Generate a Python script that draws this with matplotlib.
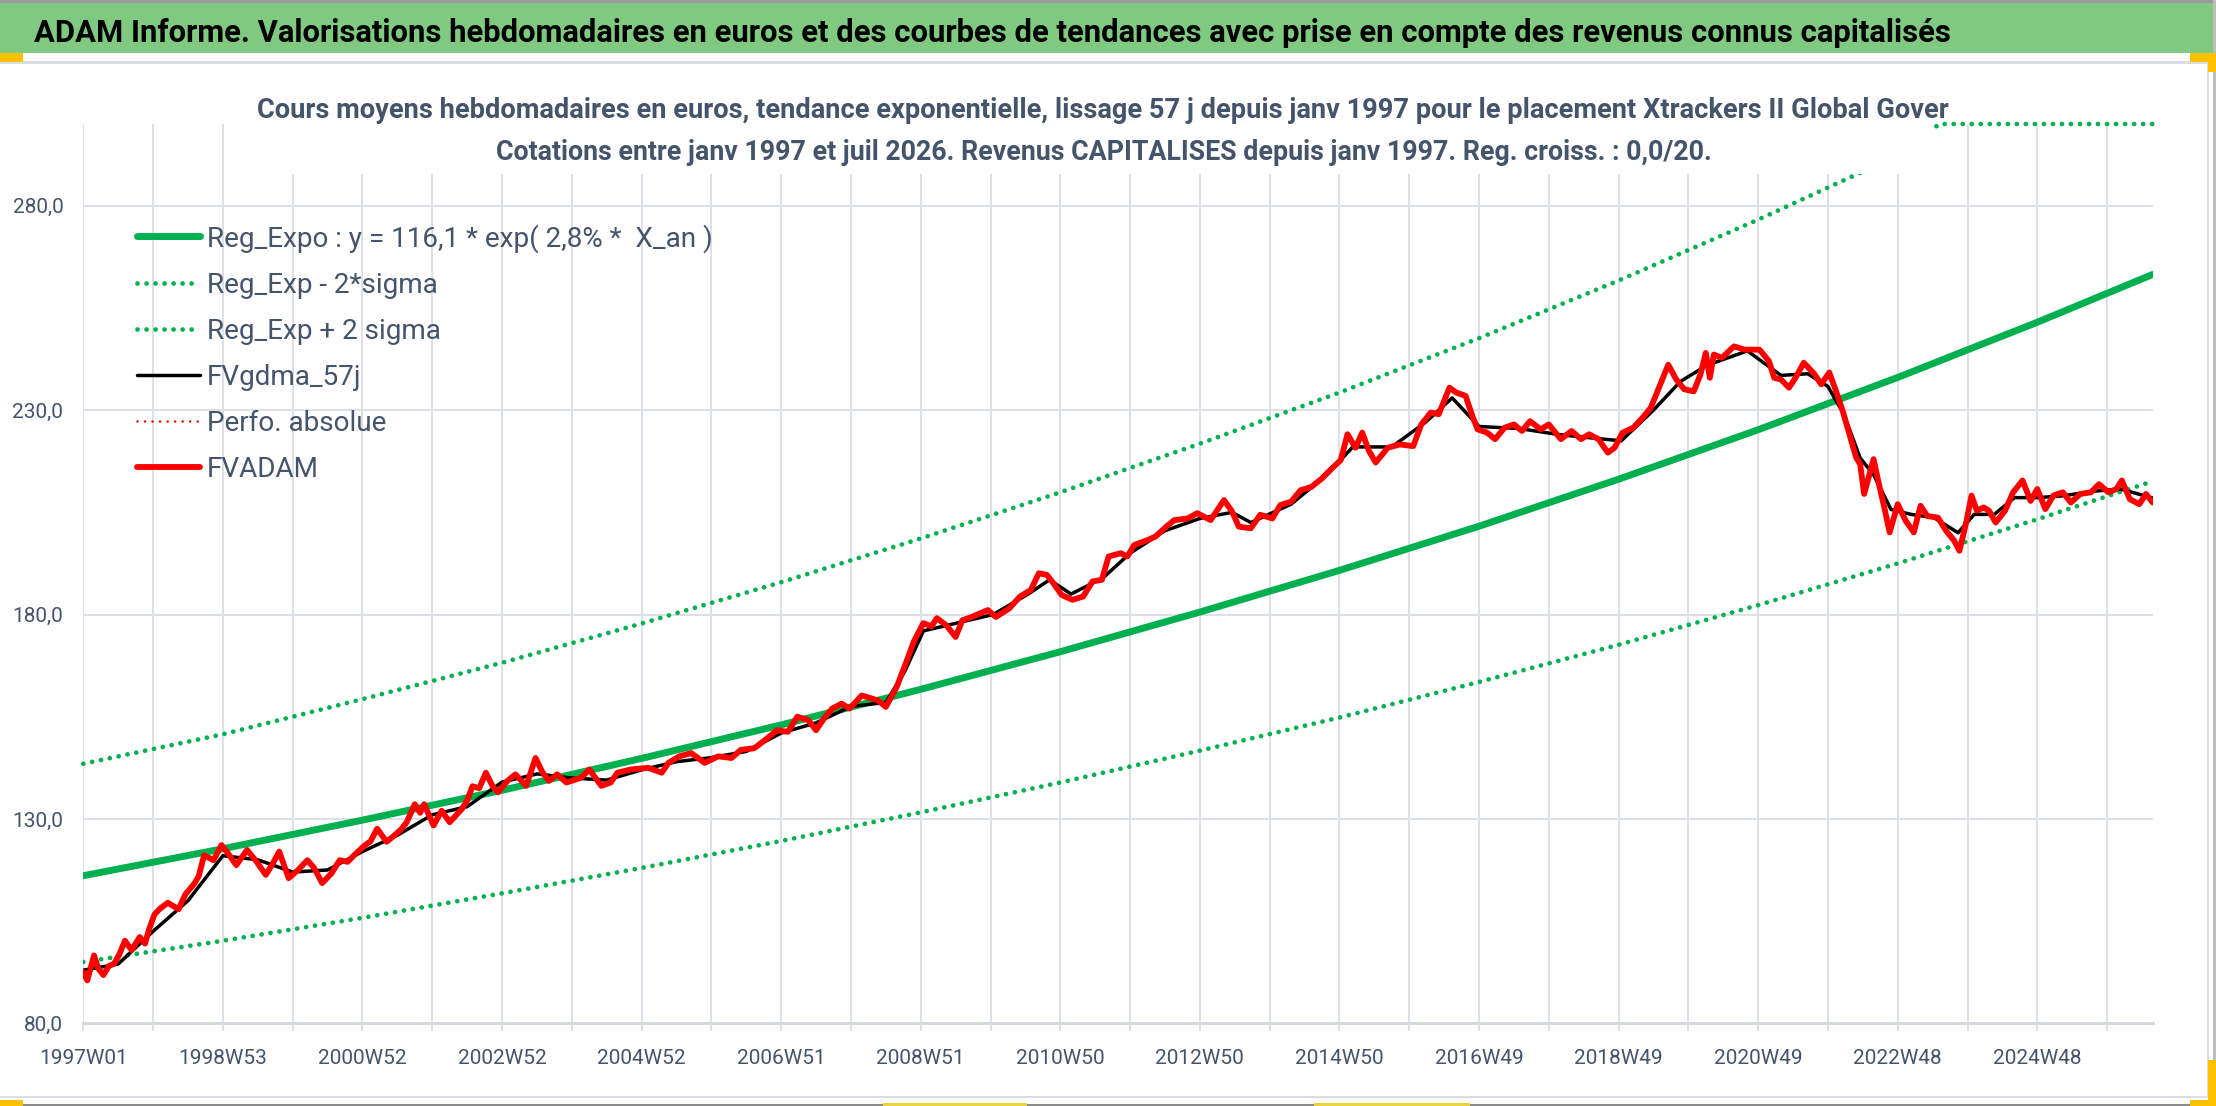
import numpy as np
import matplotlib
matplotlib.use("Agg")
import matplotlib.pyplot as plt
from matplotlib import font_manager
from matplotlib.font_manager import FontProperties
from matplotlib.textpath import TextPath
from matplotlib.patches import Rectangle
from matplotlib.ticker import FixedLocator, FuncFormatter

# --- data (x = week index since 1997W01) ---
fv_weeks = [
    0, 3, 8, 11, 15, 19, 23, 27, 31, 36,
    42, 46, 49, 53, 57, 63, 71, 76, 83, 86,
    90, 97, 103, 108, 114, 122, 129, 136, 141, 146,
    153, 160, 167, 172, 178, 185, 191, 197, 203, 210,
    214, 219, 226, 232, 237, 241, 247, 251, 254, 261,
    267, 273, 282, 286, 290, 295, 300, 305, 309, 316,
    322, 330, 337, 342, 347, 353, 360, 371, 377, 386,
    393, 398, 408, 421, 431, 436, 444, 453, 463, 473,
    483, 490, 500, 508, 517, 525, 532, 540, 546, 552,
    558, 565, 571, 580, 584, 592, 598, 606, 613, 619,
    626, 632, 636, 643, 650, 655, 662, 674, 680, 690,
    698, 706, 712, 718, 723, 729, 737, 745, 752, 759,
    764, 773, 778, 783, 793, 799, 807, 813, 823, 830,
    840, 850, 856, 861, 870, 877, 886, 892, 900, 907,
    915, 923, 929, 937, 942, 948, 953, 958, 963, 972,
    981, 991, 997, 1004, 1010, 1018, 1023, 1030, 1035, 1039,
    1046, 1052, 1059, 1066, 1072, 1078, 1086, 1092, 1101, 1109,
    1116, 1122, 1129, 1136, 1141, 1147, 1155, 1162, 1168, 1173,
    1181, 1187, 1193, 1200, 1205, 1209, 1212, 1215, 1221, 1230,
    1238, 1249, 1256, 1260, 1265, 1271, 1276, 1282, 1290, 1295,
    1301, 1306, 1311, 1316, 1321, 1324, 1327, 1331, 1334, 1338,
    1342, 1346, 1352, 1358, 1364, 1369, 1374, 1382, 1388, 1394,
    1398, 1403, 1407, 1411, 1416, 1420, 1425, 1432, 1438, 1445,
    1451, 1456, 1462, 1468, 1475, 1481, 1488, 1496, 1502, 1509,
    1515, 1519, 1525, 1532, 1537, 1542,
]
fv_values = [
    92.5, 90.5, 96.6, 93.5, 91.8, 94.0, 94.6, 97.0, 100.2, 97.9,
    101.1, 99.5, 103.0, 106.6, 108.0, 109.5, 107.9, 111.5, 114.3, 116.0,
    121.1, 119.9, 123.6, 121.5, 118.7, 122.4, 119.6, 116.3, 119.0, 122.0,
    115.5, 117.5, 119.9, 118.0, 114.3, 116.7, 119.9, 119.5, 121.5, 123.6,
    124.5, 127.6, 124.4, 126.0, 127.5, 129.2, 133.6, 131.5, 133.6, 128.4,
    132.0, 129.2, 132.4, 134.5, 138.0, 137.5, 141.3, 138.0, 136.5, 139.3,
    140.9, 138.1, 144.9, 141.5, 139.3, 140.9, 138.9, 140.1, 142.1, 138.1,
    138.9, 141.3, 142.1, 142.5, 141.3, 143.7, 145.3, 146.1, 143.7, 145.3,
    144.9, 146.9, 147.3, 149.3, 151.7, 151.3, 155.0, 154.2, 151.7, 154.6,
    157.0, 158.2, 157.0, 160.2, 159.8, 159.0, 157.4, 162.2, 168.2, 173.5,
    177.9, 177.1, 179.1, 177.4, 174.5, 178.6, 179.4, 181.1, 179.4, 181.5,
    184.4, 186.0, 190.1, 189.7, 187.6, 184.8, 183.6, 184.4, 188.1, 188.5,
    194.2, 195.0, 194.2, 197.0, 198.2, 199.1, 201.5, 203.1, 203.5, 204.8,
    203.1, 208.0, 205.2, 201.5, 201.1, 204.4, 203.5, 206.8, 207.6, 210.4,
    211.2, 213.3, 215.3, 217.8, 224.1, 220.8, 224.5, 220.0, 217.2, 220.8,
    221.6, 221.2, 226.5, 229.4, 229.0, 235.5, 234.3, 233.5, 228.6, 225.3,
    224.5, 222.9, 225.7, 226.5, 224.9, 227.3, 225.3, 226.5, 222.9, 224.9,
    222.9, 224.1, 222.9, 219.6, 220.8, 224.5, 225.7, 228.2, 230.6, 234.6,
    241.1, 237.5, 235.1, 234.6, 238.7, 244.0, 237.9, 243.6, 242.8, 245.6,
    244.8, 244.8, 242.0, 237.9, 237.5, 235.5, 238.0, 241.6, 238.8, 236.3,
    239.2, 234.7, 229.8, 224.1, 218.4, 216.8, 209.5, 214.4, 218.0, 211.9,
    206.2, 200.1, 207.0, 202.9, 200.1, 206.6, 204.1, 203.7, 200.5, 198.1,
    195.6, 202.5, 209.1, 205.4, 206.2, 205.4, 202.5, 205.4, 209.9, 212.8,
    207.8, 210.7, 205.8, 209.1, 209.9, 207.4, 209.5, 209.9, 211.9, 209.9,
    210.7, 212.8, 208.2, 207.0, 209.5, 207.4,
]

gdma_weeks = [
    0, 26, 52, 78, 104, 130, 156, 182, 208, 234,
    260, 286, 312, 338, 364, 390, 416, 442, 468, 494,
    520, 546, 572, 598, 612, 626, 652, 678, 704, 720,
    736, 760, 780, 806, 832, 856, 870, 900, 926, 946,
    975, 1000, 1020, 1040, 1070, 1100, 1130, 1146, 1170, 1190,
    1210, 1240, 1265, 1285, 1300, 1312, 1324, 1334, 1347, 1362,
    1379, 1397, 1409, 1424, 1439, 1456, 1474, 1499, 1518, 1542,
]
gdma_values = [
    93.0, 94.5, 102.5, 110.0, 121.0, 120.0, 117.0, 117.5, 122.0, 126.0,
    131.0, 133.0, 139.0, 141.0, 140.0, 139.5, 142.0, 144.0, 145.0, 146.5,
    151.0, 153.5, 157.5, 158.5, 166.0, 176.0, 178.0, 180.0, 185.0, 188.5,
    185.0, 189.0, 195.0, 200.5, 203.5, 205.0, 202.5, 207.0, 214.0, 221.0,
    221.0, 227.0, 233.0, 226.0, 225.5, 224.0, 223.0, 222.5, 230.0, 237.0,
    241.0, 244.5, 238.5, 238.9, 235.8, 228.9, 218.3, 214.2, 205.7, 204.5,
    203.7, 200.0, 204.5, 204.5, 208.6, 208.6, 209.0, 210.2, 210.7, 208.5,
]

trend_weeks = [0, 104, 208, 312, 416, 520, 624, 728, 832, 936,
               1040, 1144, 1248, 1352, 1456, 1542]
reg_expo = [116.1, 122.7, 129.7, 137.0, 144.8, 153.0, 161.7, 170.9,
            180.6, 190.8, 201.6, 213.1, 225.2, 238.0, 251.5, 263.2]
reg_minus = [95.0, 100.2, 105.8, 111.8, 118.0, 124.6, 131.6, 138.9,
             146.7, 154.8, 163.5, 172.6, 182.3, 192.5, 203.3, 212.6]
plus_weeks = [0, 104, 208, 312, 416, 520, 624, 728, 832, 936,
              1040, 1144, 1248, 1352, 1383, 1456, 1542]
reg_plus = [143.5, 150.7, 159.3, 168.2, 177.8, 187.9, 198.6, 209.9,
            221.8, 234.3, 247.6, 261.7, 276.6, 292.3, 300.0, 300.0, 300.0]

x_labels = ["1997W01", "1998W53", "2000W52", "2002W52", "2004W52",
            "2006W51", "2008W51", "2010W50", "2012W50", "2014W50",
            "2016W49", "2018W49", "2020W49", "2022W48", "2024W48"]
y_ticks = [80, 130, 180, 230, 280]

header = ("ADAM Informe. Valorisations hebdomadaires en euros et des courbes de "
          "tendances avec prise en compte des revenus connus capitalisés")
sub1 = ("Cours moyens hebdomadaires en euros, tendance exponentielle, lissage 57 j "
        "depuis janv 1997 pour le placement Xtrackers II Global Gover")
sub2 = ("Cotations entre janv 1997 et juil 2026. Revenus CAPITALISES depuis "
        "janv 1997. Reg. croiss. : 0,0/20.")
legend_labels = ["Reg_Expo : y = 116,1 * exp( 2,8% *  X_an )", "Reg_Exp - 2*sigma",
                 "Reg_Exp + 2 sigma", "FVgdma_57j", "Perfo. absolue", "FVADAM"]

# --- styling ---
W, H = 2216, 1106
GREEN = "#00B050"
GRID = "#DDE1E7"
SLATE = "#44546A"

installed = {f.name for f in font_manager.fontManager.ttflist}
FONT = next(n for n in ["Liberation Sans Narrow", "Roboto", "DejaVu Sans"] if n in installed)
plt.rcParams["font.family"] = [FONT, "DejaVu Sans"]


def fx(x):
    return x / W


def fy(y):
    return 1 - y / H


def fit_size(s, ink_w, cap_h, weight="normal"):
    # font size (pt) close to the ink width and cap height seen in the picture,
    # the width weighted more so the lines keep their length
    fp = FontProperties(family=FONT, weight=weight)
    w = TextPath((0, 0), s, size=100, prop=fp).get_extents().width
    c = TextPath((0, 0), "H", size=100, prop=fp).get_extents().height
    px = (100 * ink_w / w) ** 0.8 * (100 * cap_h / c) ** 0.2
    return px * 72 / 100


fig = plt.figure(figsize=(W / 100, H / 100), dpi=100)
fig.patch.set_facecolor("white")

# header band and frame
fig.add_artist(Rectangle((0, fy(2.5)), 1, 2.5 / H, transform=fig.transFigure,
                         facecolor="#9A9A9A", edgecolor="none"))
fig.add_artist(Rectangle((0, fy(53)), 1, 50.5 / H, transform=fig.transFigure,
                         facecolor="#80C980", edgecolor="none"))
fig.add_artist(Rectangle((0, fy(63.5)), fx(2207), 2 / H, transform=fig.transFigure,
                         facecolor="#DADDE2", edgecolor="none"))
fig.add_artist(Rectangle((0, fy(1098)), fx(2207), 2 / H, transform=fig.transFigure,
                         facecolor="#DADDE2", edgecolor="none"))
fig.add_artist(Rectangle((fx(2207), fy(1098)), 2 / W, (1098 - 62) / H,
                         transform=fig.transFigure, facecolor="#DADDE2", edgecolor="none"))
fig.add_artist(Rectangle((0, 0), 1, 2.5 / H, transform=fig.transFigure,
                         facecolor="#8C8C8C", edgecolor="none"))
fig.add_artist(Rectangle((fx(2213), 0), 3 / W, 1, transform=fig.transFigure,
                         facecolor="#BDBDBD", edgecolor="none"))
for x0, y0, x1, y1, col in [(0, 53, 23, 62, "#FFC000"), (2190, 53, 2216, 62, "#FFC000"),
                            (2208, 62, 2216, 72, "#FFC000"), (0, 1100, 23, 1106, "#FFC000"),
                            (2208, 1060, 2216, 1106, "#FFC000"), (2190, 1100, 2216, 1106, "#FFC000"),
                            (883, 1103, 1027, 1106, "#E9D33F"), (1314, 1103, 1470, 1106, "#E9D33F")]:
    fig.add_artist(Rectangle((fx(x0), fy(y1)), (x1 - x0) / W, (y1 - y0) / H,
                             transform=fig.transFigure, facecolor=col, edgecolor="none",
                             zorder=4))

# --- plot area ---
ax = fig.add_axes([fx(83.3), fy(1023.3), (2152.7 - 83.3) / W, (1023.3 - 124) / H])
ax.set_xlim(0, 1542)
ax.set_ylim(80, 300)

ax.plot(trend_weeks, reg_expo, color=GREEN, lw=5, solid_capstyle="round",
        label=legend_labels[0])
ax.plot(trend_weeks, reg_minus, color=GREEN, lw=3.4, linestyle=(0, (0.01, 1.9)),
        dash_capstyle="round", label=legend_labels[1])
ax.plot(plus_weeks, reg_plus, color=GREEN, lw=3.4, linestyle=(0, (0.01, 1.9)),
        dash_capstyle="round", clip_on=False, label=legend_labels[2])
ax.plot(gdma_weeks, gdma_values, color="black", lw=2.5, solid_capstyle="round",
        label=legend_labels[3])
ax.plot([], [], color="#E00000", lw=1.8, linestyle=(0, (0.01, 3.0)),
        dash_capstyle="round", label=legend_labels[4])
ax.plot(fv_weeks, fv_values, color="#FF0000", lw=4.2, solid_joinstyle="round",
        solid_capstyle="round", label=legend_labels[5])

for side in ["left", "right", "top"]:
    ax.spines[side].set_visible(False)
ax.spines["bottom"].set_color("#D6DADF")
ax.spines["bottom"].set_linewidth(2.2)

tick_fs = 0.5 * (fit_size("1997W01", 83.3, 15.3) + fit_size("280,0", 48.3, 15.0))
ax.xaxis.set_major_locator(FixedLocator(list(range(0, 104 * len(x_labels), 104))))
ax.xaxis.set_minor_locator(FixedLocator(list(range(52, 1509, 104))))
ax.set_xticklabels(x_labels)
ax.yaxis.set_major_locator(FixedLocator(y_ticks))
ax.yaxis.set_major_formatter(FuncFormatter(lambda v, p: f"{v:.1f}".replace(".", ",")))
ax.tick_params(axis="x", which="both", length=6, width=1.4, color=GRID,
               labelsize=tick_fs, labelcolor=SLATE, pad=12.5)
ax.tick_params(axis="y", length=0, labelsize=tick_fs, labelcolor=SLATE, pad=14.4)
ax.set_axisbelow(True)
ax.grid(axis="y", color=GRID, lw=1.4)
ax.grid(axis="x", which="both", color=GRID, lw=1.4)

# legend, fitted to the reference rows
leg_fs = fit_size(legend_labels[0], 490, 21.7)
leg_px = leg_fs * 100 / 72


def make_legend(spacing):
    return ax.legend(loc="upper left", frameon=False, borderpad=0, borderaxespad=0,
                     bbox_to_anchor=(fx(137), fy(241 - 0.62 * leg_px)),
                     bbox_transform=fig.transFigure, prop={"size": leg_fs},
                     labelcolor=SLATE, handlelength=63 / leg_px,
                     handletextpad=7 / leg_px, labelspacing=spacing)


leg = make_legend(0.5)
renderer = fig.canvas.get_renderer()
text_h = leg.get_texts()[1].get_window_extent(renderer=renderer).height
leg.remove()
leg = make_legend(max(0.0, (46 - text_h) / leg_px))

# titles; the white box hides the top of the plot area like the original
fig.add_artist(Rectangle((fx(278), fy(174)), (1932 - 278) / W, (174 - 68) / H,
                         transform=fig.transFigure, facecolor="white",
                         edgecolor="none", zorder=2))
fig.text(fx(34), fy(42), header, ha="left", va="baseline", color="black",
         fontweight="bold", fontsize=fit_size(header, 1891, 23.3, "bold"), zorder=5)
fig.text(fx(1103), fy(118), sub1, ha="center", va="baseline", color=SLATE,
         fontweight="bold", fontsize=fit_size(sub1, 1640, 21.7, "bold"), zorder=5)
fig.text(fx(1104), fy(160), sub2, ha="center", va="baseline", color=SLATE,
         fontweight="bold", fontsize=fit_size(sub2, 1176, 21.7, "bold"), zorder=5)

fig.savefig("out.png", dpi=100)
